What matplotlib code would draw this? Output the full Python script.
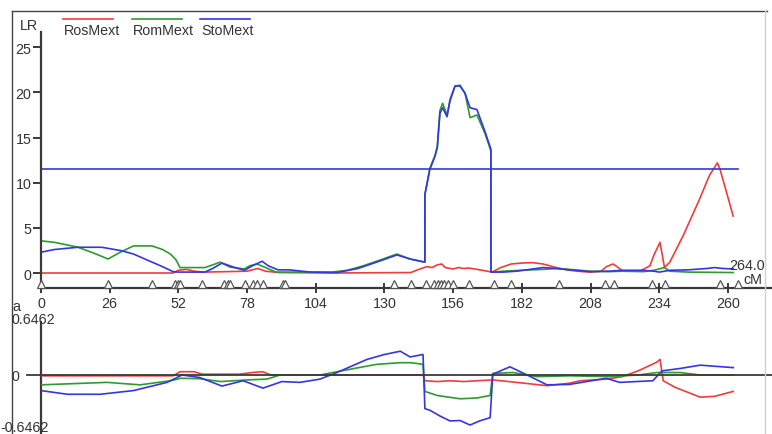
import matplotlib
matplotlib.use("Agg")
import matplotlib.pyplot as plt
from matplotlib.lines import Line2D

W, H = 772, 435

# ---------------- data (cM positions, values) ----------------
ros_lr_pos = [0, 50, 52, 55, 58, 62, 70, 78, 82, 85, 90, 110, 140, 143, 146, 148, 150, 151.7, 153, 156, 158, 160, 162,
              165, 168, 170.7, 174, 178, 182, 186, 190, 195, 200, 205, 208, 212, 214, 216.5, 218, 220, 224, 227, 230.5,
              232, 234.3, 236, 238, 243, 249, 253, 256, 257, 262]
ros_lr = [0, 0, 0.3, 0.4, 0.2, 0.1, 0.15, 0.2, 0.5, 0.2, 0.05, 0, 0.05, 0.4, 0.7, 0.6, 0.9, 1.0, 0.6, 0.45, 0.6, 0.5, 0.55,
          0.4, 0.25, 0.1, 0.6, 1.0, 1.1, 1.15, 1.0, 0.6, 0.3, 0.15, 0.1, 0.2, 0.7, 1.0, 0.7, 0.25, 0.2, 0.25, 0.8,
          2.0, 3.4, 0.6, 1.2, 4.1, 8.0, 10.8, 12.2, 11.5, 6.3]

rom_lr_pos = [0, 5, 10, 14, 20, 25.4, 30, 35, 42, 46, 49, 51, 52.6, 62, 65, 67.8, 71.5, 77, 79, 81.7, 85, 89, 110, 116,
              122, 128, 134.7, 139.7, 145.3, 145.31, 147.2, 149.1, 150, 151, 152, 153.7, 154.8, 156.7, 158.6, 160.5,
              162.4, 165, 168, 170.3, 170.31, 175, 182, 190, 195, 200, 208, 215, 220, 228, 232, 236, 238, 245, 262]
rom_lr = [3.56, 3.4, 3.1, 2.85, 2.2, 1.55, 2.3, 3.0, 3.0, 2.6, 2.1, 1.5, 0.6, 0.6, 0.9, 1.2, 0.65, 0.45, 0.8, 1.0, 0.6,
          0.1, 0.1, 0.3, 0.8, 1.4, 2.1, 1.55, 1.2, 8.7, 11.6, 13.0, 14.0, 18.0, 18.8, 17.5, 19.0, 20.7, 20.8, 19.9,
          17.2, 17.5, 15.5, 13.5, 0.1, 0.2, 0.3, 0.4, 0.5, 0.4, 0.2, 0.15, 0.2, 0.15, 0.3, 0.6, 0.2, 0.1, 0.05]

sto_lr_pos = [0, 5, 14, 23, 30.6, 35, 40.5, 46, 50, 52, 62, 65, 68.5, 73.4, 77, 80, 83.7, 86, 89.7, 94, 102, 112, 120,
              128, 134.7, 139.7, 145.3, 145.31, 147.2, 149.1, 150, 151, 152, 153.7, 154.8, 156.7, 158.6, 160.5, 162.4,
              165, 168, 170.3, 170.31, 175, 180, 185, 190, 195, 200, 208, 215, 220, 228, 232, 234, 238, 245, 252, 255,
              258, 262]
sto_lr = [2.3, 2.6, 2.85, 2.85, 2.46, 2.1, 1.4, 0.7, 0.15, 0.1, 0.1, 0.5, 1.1, 0.6, 0.3, 0.8, 1.3, 0.8, 0.35, 0.35, 0.1,
          0.05, 0.5, 1.3, 2.0, 1.55, 1.2, 8.7, 11.5, 12.9, 13.9, 17.7, 18.3, 17.3, 19.2, 20.7, 20.7, 19.9, 18.3,
          18.1, 15.7, 13.7, 0.1, 0.1, 0.2, 0.4, 0.6, 0.5, 0.35, 0.15, 0.2, 0.3, 0.3, 0.2, 0.1, 0.3, 0.35, 0.5, 0.6,
          0.5, 0.45]

ros_a_pos = [0, 50, 52.6, 58, 61, 75, 80, 84, 87, 130, 144.6, 145.3, 150, 155, 160, 165, 171, 180, 191.5, 200, 204, 214,
             220, 226, 233, 234.3, 235.5, 240, 249.5, 255, 262]
ros_a = [-0.01, -0.01, 0.04, 0.04, 0.01, 0.01, 0.03, 0.04, 0.0, 0.0, 0.0, -0.07, -0.08, -0.07, -0.08, -0.07, -0.06,
         -0.09, -0.13, -0.1, -0.07, -0.05, -0.02, 0.05, 0.155, 0.19, -0.07, -0.15, -0.27, -0.26, -0.2]

rom_a_pos = [0, 25, 37.5, 49, 53, 60, 68, 78, 85.5, 90.5, 105.6, 112, 127, 136, 140, 144.6, 145.3, 150, 158.6, 165, 170,
             171, 178.7, 187.7, 200, 215, 226, 233, 242, 249.5, 262]
rom_a = [-0.12, -0.09, -0.12, -0.07, -0.04, -0.045, -0.08, -0.06, -0.05, 0.0, 0.0, 0.04, 0.13, 0.15, 0.15, 0.13, -0.2,
         -0.25, -0.29, -0.28, -0.25, 0.02, 0.03, -0.02, -0.01, -0.02, 0.0, 0.03, 0.03, 0.0, 0.0]

sto_a_pos = [0, 10, 22.4, 35, 47.7, 53.4, 60, 68.5, 76.5, 84, 91.2, 98, 105.6, 112, 123.4, 130, 136, 139.7, 144.6,
             145.3, 147.2, 151, 154.8, 158.6, 162.4, 166, 170, 171, 177.5, 184, 191.5, 200, 214, 219, 231.6, 235,
             242, 249.5, 262]
sto_a = [-0.19, -0.235, -0.235, -0.19, -0.09, 0.0, -0.03, -0.135, -0.07, -0.16, -0.08, -0.09, -0.05, 0.03, 0.19, 0.25,
         0.29, 0.22, 0.25, -0.41, -0.43, -0.5, -0.56, -0.555, -0.61, -0.56, -0.52, 0.01, 0.1, 0.0, -0.12, -0.115,
         -0.04, -0.09, -0.07, 0.05, 0.08, 0.12, 0.09]

markers = [0, 25.4, 42.1, 50.9, 52, 52.8, 61.1, 69.1, 70.6, 71.4, 77.4, 80.1, 81.9, 84.2, 91.5, 92.2, 133.6, 140,
           145.7, 148.8, 150.3, 151.4, 152.6, 154.1, 156, 162, 171.5, 178, 196.2, 213.3, 217, 231.1, 236, 257, 264]

threshold = 11.5
a_max = 0.6462
chrom_len = 264.0
x_ticks = list(range(0, 261, 26))
y_ticks = [0, 5, 10, 15, 20, 25]
series_names = ["RosMext", "RomMext", "StoMext"]
colors = ["#f03c3c", "#2f9a2f", "#3636e0"]

# ---------------- layout helpers ----------------
def fx(x):
    return x / W

def fy(y):
    return 1 - y / H

PX_PER_CM = 2.642
LR_PX = 9.03
LR0_Y = 274
AXC = "#3a3a3a"
TXT = "#333333"
plt.rcParams["font.family"] = ["Liberation Sans", "DejaVu Sans"]
FS = 10.3

fig = plt.figure(figsize=(W / 100, H / 100), dpi=100)
fig.patch.set_facecolor("white")

# top panel
top_y0, top_y1 = 33, 289
ax = fig.add_axes([fx(41), fy(top_y1), fx(W - 41), (top_y1 - top_y0) / H])
ax.set_xlim(0, (W - 41) / PX_PER_CM)
ax.set_ylim((LR0_Y - top_y1) / LR_PX, (LR0_Y - top_y0) / LR_PX)
ax.patch.set_alpha(0)
for s in ["top", "right"]:
    ax.spines[s].set_visible(False)
for s in ["left", "bottom"]:
    ax.spines[s].set_color(AXC)
    ax.spines[s].set_linewidth(1.6)

lw = 1.2
ax.plot(ros_lr_pos, ros_lr, color=colors[0], lw=lw)
ax.plot(rom_lr_pos, rom_lr, color=colors[1], lw=lw)
ax.plot(sto_lr_pos, sto_lr, color=colors[2], lw=lw)
ax.plot([0, chrom_len], [threshold, threshold], color=colors[2], lw=1.2)

ybot = (LR0_Y - top_y1) / LR_PX
ax.plot(markers, [ybot + 3.8 / LR_PX] * len(markers), linestyle="none", marker="^", markersize=6,
        mfc="white", mec="#555555", mew=0.9, clip_on=False, zorder=5)

ax.set_yticks(y_ticks)
ax.set_yticklabels([str(v) for v in y_ticks], fontsize=FS, color=TXT)
ax.set_xticks(x_ticks)
ax.set_xticklabels([str(v) for v in x_ticks], fontsize=FS, color=TXT)
ax.tick_params(axis="y", direction="out", length=6, width=1.4, color=AXC, pad=1)
ax.tick_params(axis="x", direction="inout", length=7, width=1.4, color=AXC, pad=2)

# legend
legend_x = [63, 132, 200]
for name, c, x0 in zip(series_names, colors, legend_x):
    fig.add_artist(Line2D([fx(x0), fx(x0 + 50)], [fy(20), fy(20)], color=c, lw=1.2))
    fig.text(fx(x0 + 1), fy(31), name, fontsize=FS, color=TXT, ha="left", va="center")

fig.text(fx(20), fy(26), "LR", fontsize=FS, color=TXT, ha="left", va="center")
fig.text(fx(765), fy(266), "264.0", fontsize=FS, color=TXT, ha="right", va="center")
fig.text(fx(762), fy(280), "cM", fontsize=FS, color=TXT, ha="right", va="center")

# bottom panel
bot_y0 = 323
A_PX = (376 - bot_y0) / a_max
ax2 = fig.add_axes([fx(41), 0, fx(W - 41), (H - bot_y0) / H])
ax2.set_xlim(0, (W - 41) / PX_PER_CM)
ax2.set_ylim(-(H - 376) / A_PX, a_max)
ax2.patch.set_alpha(0)
for s in ["top", "right", "bottom"]:
    ax2.spines[s].set_visible(False)
ax2.spines["left"].set_color(AXC)
ax2.spines["left"].set_linewidth(1.6)
ax2.set_xticks([])
ax2.set_yticks([])

ax2.plot(ros_a_pos, ros_a, color=colors[0], lw=lw, zorder=3)
ax2.plot(rom_a_pos, rom_a, color=colors[1], lw=lw, zorder=3)
ax2.plot(sto_a_pos, sto_a, color=colors[2], lw=lw, zorder=3)
fig.add_artist(Line2D([fx(27), fx(W)], [fy(376), fy(376)], color=AXC, lw=1.3, zorder=2))

fig.text(fx(12), fy(307), "a", fontsize=FS, color=TXT, ha="left", va="center")
fig.text(fx(11), fy(320), "0.6462", fontsize=FS, color=TXT, ha="left", va="center")
fig.text(fx(11), fy(377), "0", fontsize=FS, color=TXT, ha="left", va="center")
fig.text(fx(0), fy(428), "-0.6462", fontsize=FS, color=TXT, ha="left", va="center")

# outer frame
fig.add_artist(Line2D([fx(12), fx(12)], [fy(12), 0], color="#444444", lw=1.0))
fig.add_artist(Line2D([fx(12), fx(767)], [fy(12), fy(12)], color="#444444", lw=1.0))
fig.add_artist(Line2D([fx(765), fx(765)], [fy(12), 0], color="#d0d0d0", lw=1.0))

fig.savefig("out.png", dpi=100, facecolor="white")
